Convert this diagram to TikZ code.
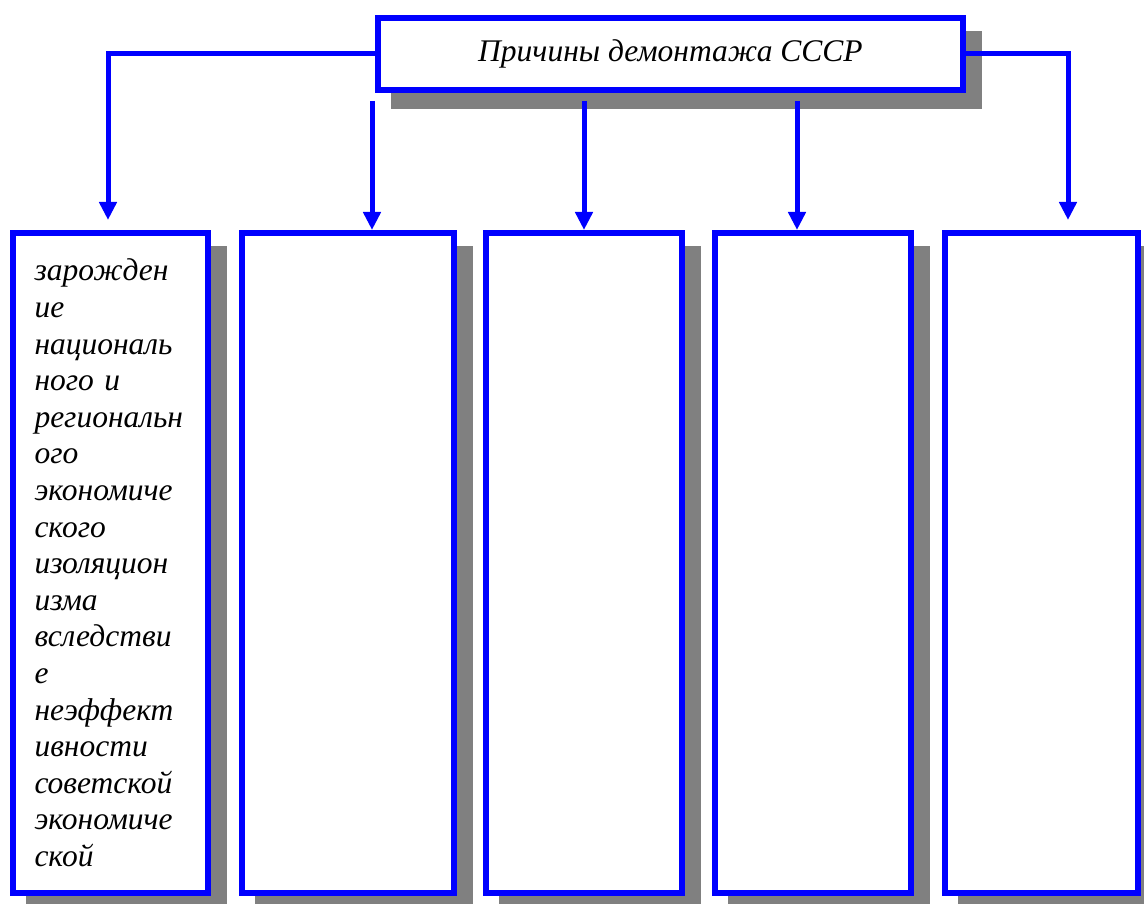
\documentclass[tikz,border=0pt]{standalone}
\usepackage{fontspec}
\setmainfont{Liberation Serif}
\usetikzlibrary{arrows.meta,shadows}
\definecolor{frameblue}{RGB}{0,0,255}
\definecolor{shadowgray}{RGB}{128,128,128}
\begin{document}
\begin{tikzpicture}[x=1pt,y=-1pt,
    framed/.style={draw=frameblue, line width=6pt, fill=white, inner sep=0pt,
        font=\itshape\fontsize{31.5pt}{36.6pt}\selectfont,
        drop shadow={shadow xshift=16pt, shadow yshift=-16pt, opacity=1,
            fill=shadowgray, draw=shadowgray, line width=6pt}},
    cause/.style={framed, minimum width=#1, minimum height=660pt},
    conn/.style={draw=frameblue, line width=5pt, -{Triangle[width=17pt,length=18pt]}}]
    \pgfmathsetmacro{\boxmid}{563};
    \useasboundingbox (0,0) rectangle (1144,904);
    % top box
    \node[framed, minimum width=585pt, minimum height=72pt] (top) at (670.5,54) {Причины демонтажа СССР};
    % the five causes
    \node[cause=195pt, text width=152pt, align=left] (b1) at (110.5,\boxmid)
        {зарожден\\ие\\националь\\ного и\\региональн\\ого\\экономиче\\ского\\изоляцион\\изма\\вследстви\\е\\неэффект\\ивности\\советской\\экономиче\\ской};
    \node[cause=212pt] (b2) at (348,\boxmid) {};
    \node[cause=196pt] (b3) at (584,\boxmid) {};
    \node[cause=196pt] (b4) at (813,\boxmid) {};
    \node[cause=193pt] (b5) at (1041.5,\boxmid) {};
    % connectors
    \coordinate (l1) at (108,220);
    \coordinate (r5) at (1068,220);
    \draw[conn] (top.west) -| (l1);
    \draw[conn] (top.east) -| (r5);
    \draw[conn] ([xshift=24pt,yshift=-8pt]b2.north |- top.south) -- ([xshift=24pt]b2.north);
    \draw[conn] ([yshift=-8pt]b3.north |- top.south) -- (b3.north);
    \draw[conn] ([xshift=-16pt,yshift=-8pt]b4.north |- top.south) -- ([xshift=-16pt]b4.north);
\end{tikzpicture}
\end{document}
